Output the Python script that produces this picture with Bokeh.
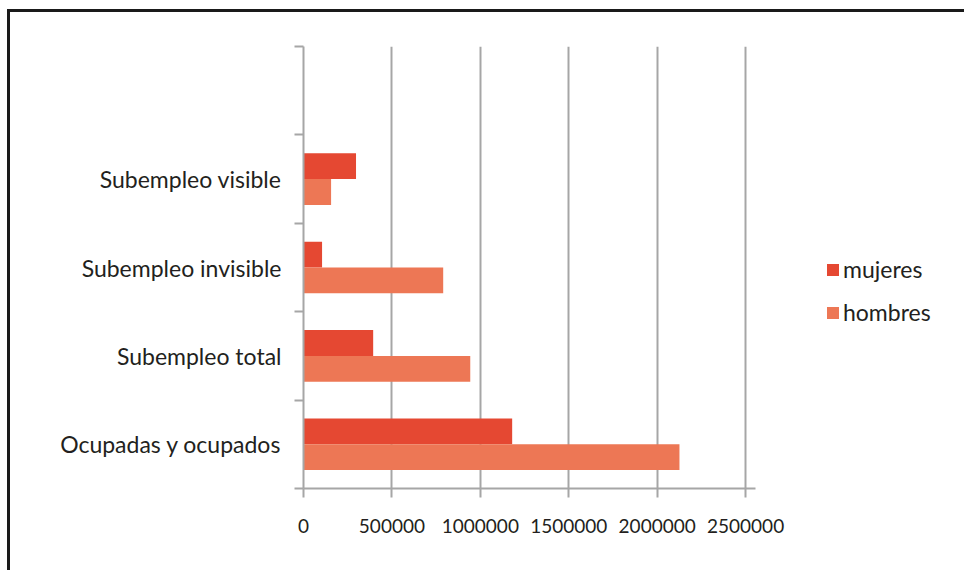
from bokeh.plotting import figure
from bokeh.models import FixedTicker, BasicTickFormatter, Legend, LegendItem, ColumnDataSource, Range1d
from bokeh.embed import file_html
from bokeh.resources import INLINE

categories = ["Ocupadas y ocupados", "Subempleo total", "Subempleo invisible", "Subempleo visible"]
mujeres = [1180000, 394000, 105000, 297000]
hombres = [2126000, 943000, 790000, 156000]
x_ticks = [0, 500000, 1000000, 1500000, 2000000, 2500000]

FONT = "Lato"
TXT = "#231f20"
GRAY = "#a6a6a6"

X_MAX = 2556000
# frame is widened to the canvas edge so the legend (drawn inside it) is not clipped;
# the axis line is bounded to the real value range
X_VIEW = X_MAX * (957 - 293) / (745 - 293)

centers = [i + 0.5 for i in range(len(categories))]
bh = 0.292
src_m = ColumnDataSource(dict(y=[c + bh / 2 for c in centers], v=mujeres))
src_h = ColumnDataSource(dict(y=[c - bh / 2 for c in centers], v=hombres))

p = figure(width=957, height=561, output_backend="svg", toolbar_location=None,
           x_range=Range1d(0, X_VIEW), y_range=Range1d(0, 5),
           min_border_left=293, min_border_right=0, min_border_top=34, min_border_bottom=85)
p.styles = {"margin-left": "7px", "margin-top": "9px",
            "border-left": "3px solid #1a1a1a", "border-top": "3px solid #1a1a1a"}
p.outline_line_color = None
p.background_fill_color = "white"
p.border_fill_color = "white"

rm = p.hbar(y="y", right="v", left=0, height=bh, source=src_m, fill_color="#e54832", line_color=None)
rh = p.hbar(y="y", right="v", left=0, height=bh, source=src_h, fill_color="#ed7755", line_color=None)

# x axis
xa = p.xaxis[0]
xa.bounds = (0, X_MAX)
xa.ticker = FixedTicker(ticks=x_ticks, minor_ticks=[])
xa.formatter = BasicTickFormatter(use_scientific=False)
xa.axis_line_color = GRAY
xa.axis_line_width = 2
xa.major_tick_line_color = GRAY
xa.major_tick_line_width = 2
xa.major_tick_out = 9
xa.major_tick_in = 0
xa.minor_tick_line_color = None
xa.major_label_standoff = 21
xa.major_label_text_font = FONT
xa.major_label_text_font_size = "19px"
xa.major_label_text_color = TXT

# y axis
ya = p.yaxis[0]
ya.ticker = FixedTicker(ticks=centers, minor_ticks=[0, 1, 2, 3, 4, 5])
ya.major_label_overrides = {c: n for c, n in zip(centers, categories)}
ya.axis_line_color = GRAY
ya.axis_line_width = 2
ya.major_tick_line_color = None
ya.major_tick_out = 0
ya.major_tick_in = 0
ya.minor_tick_line_color = GRAY
ya.minor_tick_line_width = 2
ya.minor_tick_out = 9
ya.minor_tick_in = 0
ya.major_label_standoff = 13
ya.major_label_text_font = FONT
ya.major_label_text_font_size = "23px"
ya.major_label_text_color = TXT

p.xgrid.ticker = FixedTicker(ticks=x_ticks)
p.xgrid.grid_line_color = GRAY
p.xgrid.grid_line_width = 2
p.ygrid.grid_line_color = None

legend = Legend(items=[LegendItem(label="mujeres", renderers=[rm]),
                       LegendItem(label="hombres", renderers=[rh])],
                location=(522, 162), padding=0, margin=0, spacing=15,
                glyph_width=15, glyph_height=15, label_standoff=3,
                label_text_font=FONT, label_text_font_size="23px", label_text_color=TXT,
                border_line_color=None, background_fill_alpha=0)
p.add_layout(legend, "center")

open("out.html", "w").write(file_html(p, INLINE))
